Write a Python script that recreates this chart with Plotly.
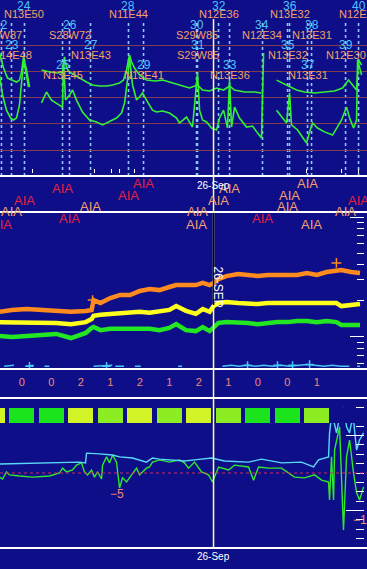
import plotly.graph_objects as go

W, H = 367, 569


def py(px):
    """pixel row -> paper fraction (layout helper)"""
    return 1 - px / H


BG = "#0e0e88"
WHITE = "#ffffff"
CYAN_TXT = "#4cc4ff"
ORANGE_TXT = "#f7a064"
AIA_RED = "#e8203c"
AIA_PEACH = "#f5a06e"
SALMON = "#f08878"
FONT = "Liberation Sans"

# ---------------- data ----------------
# time axis: hours since 25-Sep 00:00 UT (26-Sep 00:00 = 24)
DAY_T = 24.0
DAY_LABEL = "26-Sep"
X_RANGE = [2.28, 39.61]

# GOES XRS long channel (W/m^2)
xrs_long_t = [2.23, 2.64, 3.04, 3.55, 3.96, 4.26, 4.47, 4.67, 4.98, 5.29, None,
              6.50, 7.32, 8.13, 8.64, 8.84, 9.05, 9.35, 9.86, 10.37, 11.08,
              11.69, 12.40, 13.12, 13.73, 14.44, 14.84, 15.15, 15.45, 15.66, 15.96,
              16.47, 17.18, 18.00, 18.81, 19.52, 20.54, 21.56, 22.37, 22.88, 23.59,
              24.31, 25.02, 25.63, 26.14, 27.15, 28.17, 28.88, None,
              30.41, 31.02, 31.73, 32.44, 33.26, 34.27, 35.29, 36.31, 37.12, 37.73,
              38.14, 38.55, 38.75, 39.06]
xrs_long = [4.95e-5, 1.33e-5, 5.5e-6, 4.6e-6, 3.9e-6, 4.6e-6, 9.4e-6, 3.5e-5, 1.12e-5, 2.5e-6, None,
            1.12e-5, 9.4e-6, 8.6e-6, 9.4e-6, 3.5e-5, 1.33e-5, 9.4e-6, 7.2e-6, 5.5e-6, 3.9e-6,
            3.0e-6, 2.74e-6, 2.74e-6, 3.0e-6, 3.6e-6, 4.6e-6, 1.12e-5, 4.16e-5, 2.25e-5, 1.33e-5,
            7.2e-6, 4.6e-6, 4.25e-6, 4.6e-6, 3.9e-6, 3.0e-6, 2.3e-6, 3.0e-6, 1.93e-6, 1.77e-6,
            2.3e-6, 1.93e-6, 2.74e-6, 1.93e-6, 1.62e-6, 1.62e-6, 1.48e-6, None,
            4.6e-6, 3.6e-6, 2.74e-6, 1.93e-6, 1.62e-6, 1.48e-6, 1.62e-6, 1.77e-6, 2.3e-6, 4.6e-6,
            3.0e-6, 1.93e-6, 2.68e-5, 1.73e-5]

# GOES XRS short channel (W/m^2)
xrs_short_t = [2.23, 2.54, 2.94, 3.35, 3.65, 3.96, 4.26, 4.47, 4.67, 4.88, 5.18, None,
               6.50, 7.01, 7.52, 8.03, 8.64, 8.74, 8.94, 9.35, 9.66, 10.06,
               10.67, 11.39, 12.10, 12.71, 13.12, 13.62, 14.13, 14.64, 14.95, 15.25,
               15.45, 15.76, 16.17, 16.47, 16.78, 17.18, 17.79, 18.20, 18.81, 19.52,
               20.24, 20.54, 21.25, 21.86, 22.37, 22.58, 22.88, 23.29, 23.80, 24.31,
               24.61, 25.02, 25.42, 25.63, 25.83, 26.14, 26.64, 27.36, 27.97, 28.48,
               28.88, 29.09, None,
               30.41, 31.02, 31.43, 31.73, 31.93, 32.55, 33.26, 33.46, 33.77, 34.07,
               34.58, 35.29, 36.11, 36.61, 37.02, 37.53, 37.84, 38.24, 38.55, 38.65,
               39.06]
xrs_short = [7.2e-6, 1.24e-6, 3.3e-7, 1.66e-7, 1.39e-7, 1.66e-7, 5.2e-7, 3.0e-6, 2.25e-5, 1.12e-5, 2.5e-6, None,
             6.2e-7, 1.62e-6, 8.0e-7, 6.2e-7, 4.3e-7, 2.68e-5, 8.0e-7, 1.24e-6, 1.93e-6, 8.0e-7,
             2.8e-7, 1.39e-7, 1.17e-7, 9.0e-8, 1.07e-7, 1.27e-7, 1.66e-7, 2.57e-7, 6.2e-7, 4.6e-6,
             3.5e-5, 3.0e-6, 8.0e-7, 1.04e-6, 1.48e-6, 8.0e-7, 3.3e-7, 2.8e-7, 3.06e-7, 2.57e-7,
             1.66e-7, 1.07e-7, 1.8e-7, 7.5e-8, 8.6e-6, 3.3e-7, 1.39e-7, 1.17e-7, 6.9e-8, 5.8e-8,
             1.66e-7, 3.3e-7, 6.9e-8, 4.6e-6, 7.5e-8, 4.3e-7, 1.66e-7, 7.5e-8, 8.2e-8, 4.4e-8,
             2.9e-8, 4.95e-5, None,
             3.3e-7, 1.66e-7, 1.07e-7, 1.48e-6, 9.0e-8, 5.8e-8, 2.4e-8, 1.85e-8, 4.9e-8, 1.07e-7,
             6.9e-8, 4.9e-8, 3.7e-8, 7.5e-8, 1.39e-7, 4.3e-7, 1.66e-7, 6.9e-8, 1.39e-7, 2.68e-5,
             7.2e-6]

# XRS decade grid (A, B, C, M, X)
xrs_grid = [1e-8, 1e-7, 1e-6, 1e-5, 1e-4]

# flare events
flare_num = [22, 23, 24, 25, 26, 27, 28, 29, 30, 31, 32, 33, 34, 35, 36, 37, 38, 39, 40]
flare_t = [2.43, 3.45, 4.77, 8.64, 9.35, 11.49, 15.35, 16.88, 22.27, 22.37,
           24.51, 25.63, 28.98, 31.53, 31.73, 33.56, 33.97, 37.43, 38.75]
flare_region = ["S28W87", "N14E48", "N13E50", "N13E45", "S28W72", "N13E43", "N11E44",
                "N13E41", "S29W85", "S29W85", "N12E36", "N13E36", "N12E34", "N13E32",
                "N13E32", "N13E31", "N13E31", "N12E30", "N12E30"]
aia_flag = ["r", "p", "r", "r", "r", "p", "r", "r", "p", "p",
            "p", "p", "r", "p", "p", "p", "p", "p", "r"]
goes_mark_t = [5.59, 11.89, 13.62, 14.44, 15.96, 33.46, 37.02, 38.75]

# particle fluxes (main panel)
flux_t = [2.2, 3.5, 5.0, 6.5, 8.0, 9.5, 11.0, 11.6, 11.8, 12.5, 13.5, 14.5, 15.5,
          16.5, 17.5, 18.5, 19.5, 20.2, 21.2, 22.2, 22.9, 23.6, 24.0, 24.5, 25.3,
          26.5, 27.5, 28.5, 29.5, 30.5, 31.5, 32.5, 33.5, 34.5, 35.5, 36.5, 37.0,
          38.0, 38.9]
flux_orange = [16.2, 16.8, 17.1, 16.8, 16.5, 16.2, 16.5, 16.8, 20.3, 19.2, 21.1, 22.4, 22.4,
               24.2, 25.1, 24.6, 26.1, 27.1, 27.1, 27.1, 28.2, 27.1, 28.2, 30.4, 32.2,
               33.5, 32.9, 32.2, 32.9, 32.9, 32.9, 32.9, 34.2, 32.9, 34.8, 36.2, 36.2,
               34.8, 34.2]
flux_yellow = [13.3, 13.3, 13.1, 13.3, 13.1, 12.8, 13.3, 14.1, 15.0, 15.3, 15.6, 15.6, 15.9,
               16.2, 15.9, 16.2, 16.8, 18.1, 16.5, 15.6, 17.1, 16.2, 18.1, 19.2, 19.6,
               19.2, 18.8, 18.8, 19.2, 19.2, 19.2, 19.6, 19.6, 19.2, 19.6, 19.2, 18.1,
               18.5, 18.8]
flux_green = [10.2, 10.0, 10.2, 10.4, 10.6, 9.8, 10.8, 11.9, 12.1, 11.4, 11.7, 11.7, 11.7,
              11.7, 11.7, 11.4, 11.9, 12.8, 11.4, 11.2, 12.1, 11.2, 12.1, 13.1, 13.3,
              13.3, 13.1, 12.8, 13.1, 13.3, 13.3, 13.6, 13.6, 13.3, 13.6, 13.3, 12.6,
              12.6, 12.6]
flux_spike_t = [11.7, 36.5]
flux_spike = [20.3, 41.4]

low_t = [2.7, 3.7, None, 4.9, 5.7, None, 6.8, 7.3, None, 11.8, 13.7, None, 14.0, 14.9, None,
         16.0, 16.6, None, 20.4, 20.8, None, 24.9, 25.8, 26.6, 27.4, 28.3, 29.1, 30.0, 30.9,
         31.7, 32.6, 33.5, 34.3, 35.2, 36.1, 36.9, 37.8, None, 38.6, 38.9]
low_v = [5.7, 5.8, None, 5.7, 5.8, None, 5.7, 5.7, None, 5.7, 5.8, None, 5.7, 5.7, None,
         5.7, 5.7, None, 5.7, 5.7, None, 5.7, 5.8, 5.7, 5.8, 5.7, 5.8, 5.7, 5.8,
         5.7, 5.8, 5.9, 5.8, 5.7, 5.8, 5.7, 5.7, None, 5.7, 5.7]
low_cross_t = [5.28, 13.12, 27.46, 30.51, 32.04, 33.77]
low_cross = [5.7, 5.7, 5.8, 5.8, 5.8, 5.9]

# Kp index (3-hour intervals)
kp_start = [0, 3, 6, 9, 12, 15, 18, 21, 24, 27, 30, 33]
kp = [2, 0, 0, 2, 1, 2, 1, 2, 1, 0, 0, 1]
KP_COLORS = {0: "#1ce41c", 1: "#8cee22", 2: "#d2f426"}

# solar wind magnetic field (nT)
bt_t = [2.23, 6.60, 9.05, 10.37, 10.98, 11.08, 12.40, 13.73, 14.44, 15.76, 17.18, 17.79,
        18.51, 19.83, 21.05, 22.07, 23.80, 25.12, 27.56, 28.88, 30.92, 32.95, 34.17, 34.68,
        35.70, 35.80, 36.00, 36.21, 36.51, 36.82, 37.22, 37.40, 37.53, 37.84, 38.00, 38.24,
        38.55, 38.85, 39.26]
bt = [2.4, 2.7, 2.7, 2.9, 2.7, 5.3, 5.1, 4.8, 4.3, 4.0, 2.9, 4.0,
      3.7, 3.5, 3.2, 3.5, 4.0, 3.2, 2.9, 3.7, 2.7, 2.9, 1.6, 3.5,
      4.3, 10.7, 15.0, 14.1, 10.7, 14.9, 17.3, 15.5, 12.3, 10.7, 13.0, 14.1,
      6.1, 8.8, 10.7]
bz_t = [2.23, 2.54, 2.94, 3.25, 4.26, 5.59, 7.32, 8.33, 8.64, 9.05, 9.66, 10.06, 10.57,
        10.87, 11.18, 11.59, 11.89, 12.20, 12.61, 12.71, 13.12, 13.42, 13.73, 14.13, 14.23,
        14.44, 14.74, 15.15, 15.66, 16.17, 16.47, 17.18, 17.49, 17.79, 18.51, 19.52, 20.54,
        21.05, 21.46, 22.07, 22.78, 23.49, 23.90, 24.51, 25.53, 26.14, 27.56, 28.07, 28.58,
        29.60, 30.92, 32.24, 33.26, 34.27, 34.99, 35.70, 35.80, 36.00, 36.21, 36.31, 36.82,
        37.22, 37.53, 37.84, 38.24, 38.55, 38.85, 39.26]
bz = [-1.1, -1.6, 0.3, -0.5, -0.8, -1.1, -0.8, 0.0, 1.3, 0.3, 0.8, 2.1, 2.7,
      0.3, -0.5, 0.8, -1.1, 0.3, -1.6, 2.1, 4.3, 2.7, 4.8, 2.9, 0.8,
      -4.0, -1.3, -2.4, -0.5, 1.3, -0.5, 1.3, 1.6, 2.9, 3.5, 2.9, 3.5,
      2.7, 1.3, 2.9, 0.3, -0.5, -2.4, 1.6, 0.8, 2.1, 1.6, -1.9, 1.6,
      1.3, 1.3, -1.1, -1.3, -0.5, -1.9, -2.4, -7.2, 4.3, -7.2, 6.1, 12.3,
      -15.2, 4.3, 8.8, 0.0, -5.3, -7.2, -3.7]
bz_min_labels = [(14.23, -4.0, "\u22125"), (39.3, -11.0, "\u221215")]

# ---------------- layout constants ----------------
REGION_ROWS = {0: (6, 14), 1: (65, 75), 2: (25, 35), 3: (45, 55)}   # n % 4 -> (num px, name px)
AIA_ROWS = {0: 200, 1: 189, 2: 218, 3: 206, 4: 195, 5: 183, 6: 224, 7: 211}
SEP_LINES = [176, 212, 369, 398, 548]

fig = go.Figure()

# top panel: GOES XRS
for tt, vv in ((xrs_long_t, xrs_long), (xrs_short_t, xrs_short)):
    fig.add_trace(go.Scatter(x=tt, y=vv, mode="lines", xaxis="x", yaxis="y",
                             line=dict(color="#34f034", width=1.6), hoverinfo="skip"))

# main panel: fluxes
for vv, col in ((flux_orange, "#ff8a1e"), (flux_yellow, "#ffff1e"), (flux_green, "#22e622")):
    fig.add_trace(go.Scatter(x=flux_t, y=vv, mode="lines", xaxis="x", yaxis="y3",
                             line=dict(color=col, width=4.5), hoverinfo="skip"))
fig.add_trace(go.Scatter(x=flux_spike_t, y=flux_spike, mode="markers", xaxis="x", yaxis="y3",
                         marker=dict(symbol="cross-thin", size=7, line=dict(color="#ff8a1e", width=1.5)),
                         hoverinfo="skip"))
fig.add_trace(go.Scatter(x=low_t, y=low_v, mode="lines", xaxis="x", yaxis="y3",
                         line=dict(color="#48c8f4", width=1.5), hoverinfo="skip"))
fig.add_trace(go.Scatter(x=low_cross_t, y=low_cross, mode="markers", xaxis="x", yaxis="y3",
                         marker=dict(symbol="cross-thin", size=6, line=dict(color="#48c8f4", width=1.5)),
                         hoverinfo="skip"))

# Kp numbers and bars
kp_mid = [s + 1.5 for s in kp_start]
fig.add_trace(go.Scatter(x=kp_mid, y=[0.5] * len(kp), mode="text", xaxis="x", yaxis="y4",
                         text=[str(k) for k in kp], textposition="middle center",
                         textfont=dict(color=SALMON, size=11, family=FONT), hoverinfo="skip"))
fig.add_trace(go.Bar(x=kp_mid, y=[1] * len(kp), width=2.55, xaxis="x", yaxis="y6",
                     marker=dict(color=[KP_COLORS[k] for k in kp], line=dict(width=0)),
                     hoverinfo="skip"))

# bottom panel: IMF
fig.add_trace(go.Scatter(x=bz_t, y=bz, mode="lines", xaxis="x", yaxis="y5",
                         line=dict(color="#2ee82e", width=1.4), hoverinfo="skip"))
fig.add_trace(go.Scatter(x=bt_t, y=bt, mode="lines", xaxis="x", yaxis="y5",
                         line=dict(color="#5ad8f8", width=1.4), hoverinfo="skip"))

shapes = []
# separators
for p in SEP_LINES:
    shapes.append(dict(type="line", xref="paper", yref="paper", x0=0, x1=1, y0=py(p), y1=py(p),
                       line=dict(color=WHITE, width=2)))
# zero line in IMF panel
shapes.append(dict(type="line", xref="paper", yref="y5", x0=0, x1=1, y0=0, y1=0,
                   line=dict(color="#c83060", width=1, dash="dot")))
# flare dotted lines
for t in flare_t:
    shapes.append(dict(type="line", xref="x", yref="y domain", x0=t, x1=t, y0=0, y1=0.886,
                       line=dict(color="#8cc8ff", width=1.6, dash="dot"), layer="below"))
# GOES small marks
for t in goes_mark_t:
    shapes.append(dict(type="line", xref="x", yref="y domain", x0=t, x1=t, y0=0.017, y1=0.04,
                       line=dict(color=WHITE, width=1)))
# day line
shapes.append(dict(type="line", xref="x", yref="paper", x0=DAY_T, x1=DAY_T, y0=py(548), y1=py(19),
                   line=dict(color="#ffffb4", width=1.5)))
shapes.append(dict(type="line", xref="x", yref="paper", x0=DAY_T, x1=DAY_T, y0=py(305), y1=py(213),
                   line=dict(color="#000000", width=1.5)))

ann = []
for n, t, reg in zip(flare_num, flare_t, flare_region):
    yn, yr = REGION_ROWS[n % 4]
    ann.append(dict(x=t, y=py(yn), xref="x", yref="paper", text=str(n), showarrow=False,
                    xanchor="center", yanchor="middle",
                    font=dict(color=CYAN_TXT, size=12, family=FONT)))
    ann.append(dict(x=t, y=py(yr), xref="x", yref="paper", text=reg, showarrow=False,
                    xanchor="center", yanchor="middle",
                    font=dict(color=ORANGE_TXT, size=11, family=FONT)))
for n, t, f in zip(flare_num, flare_t, aia_flag):
    ann.append(dict(x=t, y=py(AIA_ROWS[n % 8]), xref="x", yref="paper", text="AIA", showarrow=False,
                    xanchor="center", yanchor="middle",
                    font=dict(color=AIA_RED if f == "r" else AIA_PEACH, size=13, family=FONT)))
ann.append(dict(x=DAY_T, y=py(185), xref="x", yref="paper", text=DAY_LABEL, showarrow=False,
                xanchor="center", yanchor="middle", font=dict(color=WHITE, size=10, family=FONT)))
ann.append(dict(x=DAY_T, y=py(556), xref="x", yref="paper", text=DAY_LABEL, showarrow=False,
                xanchor="center", yanchor="middle", font=dict(color=WHITE, size=10, family=FONT)))
ann.append(dict(x=DAY_T, y=py(287), xref="x", yref="paper", text=DAY_LABEL.upper(), showarrow=False,
                textangle=90, xanchor="center", yanchor="middle", xshift=4,
                font=dict(color=WHITE, size=12, family=FONT)))
for t, v, txt in bz_min_labels:
    ann.append(dict(x=t, y=v, xref="x", yref="y5", text=txt, showarrow=False, yshift=-6,
                    xanchor="center", yanchor="middle", font=dict(color=SALMON, size=12, family=FONT)))

hidden = dict(showgrid=False, zeroline=False, showticklabels=False, ticks="", showline=False)

fig.update_layout(
    width=W, height=H, margin=dict(l=0, r=0, t=0, b=0, pad=0),
    paper_bgcolor=BG, plot_bgcolor=BG, showlegend=False, bargap=0,
    font=dict(family=FONT),
    xaxis=dict(range=X_RANGE, domain=[0, 1], anchor="y5", **hidden),
    yaxis=dict(type="log", range=[-8.99, -2.286], domain=[py(176), 1], anchor="x",
               tickmode="array", tickvals=xrs_grid, showgrid=True, gridcolor="#7e3e4c",
               gridwidth=1, zeroline=False, showticklabels=False, ticks="", showline=False),
    yaxis3=dict(type="log", range=[0.733, 2.042], domain=[py(369), py(212)], anchor="free",
                position=0.992, side="right", showgrid=False, zeroline=False,
                showticklabels=False, ticks="inside", tickvals=[10, 100], ticklen=14,
                tickcolor=WHITE, tickwidth=1,
                minor=dict(ticks="inside", ticklen=7, tickcolor=WHITE, tickwidth=1,
                           tickvals=[6, 7, 8, 9, 20, 30, 40, 50, 60, 70, 80, 90], showgrid=False)),
    yaxis4=dict(range=[0, 1], domain=[py(398), py(369)], anchor="x", **hidden),
    yaxis5=dict(range=[-20, 20], domain=[py(548), py(398)], anchor="free", position=0.992,
                side="right", showgrid=False, zeroline=False, showticklabels=False,
                ticks="inside", tickvals=[-10, 10], ticklen=18, tickcolor=WHITE, tickwidth=1,
                minor=dict(ticks="inside", ticklen=8, tickcolor=WHITE, dtick=2.5, showgrid=False)),
    yaxis6=dict(range=[0, 1], domain=[py(423), py(408)], anchor="x", **hidden),
    shapes=shapes, annotations=ann,
)

fig.write_html("out.html", config={"displayModeBar": False},
               post_script="document.body.style.margin='0px';")
